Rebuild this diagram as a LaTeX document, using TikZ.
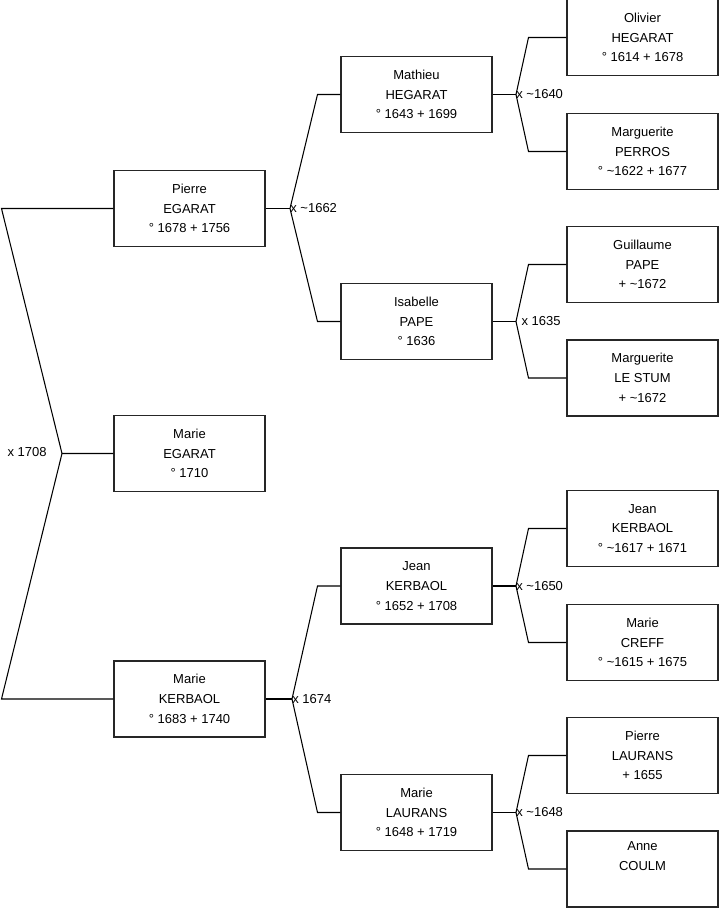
\documentclass[tikz,border=0pt]{standalone}
\usepackage{fontspec}
\setmainfont{Liberation Sans}
\usetikzlibrary{positioning}
\tikzset{
  persona/.style={draw=black!85,line width=0.6pt,minimum width=3.02cm,minimum height=1.52cm,
    inner sep=0pt,align=center,font=\fontsize{7.4}{11.2}\selectfont},
  rama/.style={black,line width=0.6pt},
  boda/.style={inner sep=0pt,anchor=west,font=\fontsize{7.4}{9}\selectfont}
}

\begin{document}
\begin{tikzpicture}[x=0.02cm,y=-0.02cm]
\useasboundingbox (0,0) rectangle (719,908);
% generacion 1
\node[persona] (pierre) at (189.5,208.5) {Pierre\\EGARAT\\° 1678 + 1756};
\node[persona] (marie) at (189.5,453.5) {Marie\\EGARAT\\° 1710};
\node[persona] (mkerbaol) at (189.5,699) {Marie\\KERBAOL\\° 1683 + 1740};
% generacion 2
\node[persona] (mathieu) at (416.5,94.5) {Mathieu\\HEGARAT\\° 1643 + 1699};
\node[persona] (isabelle) at (416.5,321.5) {Isabelle\\PAPE\\° 1636};
\node[persona] (jkerbaol) at (416.5,586) {Jean\\KERBAOL\\° 1652 + 1708};
\node[persona] (mlaurans) at (416.5,812.5) {Marie\\LAURANS\\° 1648 + 1719};
% generacion 3
\node[persona] (olivier) at (642.5,37.5) {Olivier\\HEGARAT\\° 1614 + 1678};
\node[persona] (perros) at (642.5,151.5) {Marguerite\\PERROS\\° \textasciitilde1622 + 1677};
\node[persona] (guillaume) at (642.5,264.5) {Guillaume\\PAPE\\+ \textasciitilde1672};
\node[persona] (lestum) at (642.5,378) {Marguerite\\LE STUM\\+ \textasciitilde1672};
\node[persona] (jean) at (642.5,528.5) {Jean\\KERBAOL\\° \textasciitilde1617 + 1671};
\node[persona] (creff) at (642.5,642.5) {Marie\\CREFF\\° \textasciitilde1615 + 1675};
\node[persona] (plaurans) at (642.5,755.5) {Pierre\\LAURANS\\+ 1655};
\node[persona] (coulm) at (642.5,869) {Anne\\COULM\\\strut};
% uniones
\coordinate (u0) at (62,453.5);
\coordinate (u1) at (290,208.5);
\coordinate (u2) at (292,699);
\coordinate (u3) at (516,94.5);
\coordinate (u4) at (516,321.5);
\coordinate (u5) at (516,586);
\coordinate (u6) at (516,812.5);
\node[boda,anchor=east] (b0) at (47,452) {x 1708};
\node[boda] (b1) at (u1) {x \textasciitilde1662};
\node[boda] (b2) at (u2) {x 1674};
\node[boda] (b3) at (u3) {x \textasciitilde1640};
\node[boda] (b4) at ([xshift=3] u4) {x 1635};
\node[boda] (b5) at (u5) {x \textasciitilde1650};
\node[boda] (b6) at (u6) {x \textasciitilde1648};
% ramas
\draw[rama] (pierre.west) -- ++(-112,0) -- (u0) -- (marie.west);
\draw[rama] (mkerbaol.west) -- ++(-112,0) -- (u0);
\foreach \p/\u/\a/\b in {pierre/u1/mathieu/isabelle,mkerbaol/u2/jkerbaol/mlaurans}{
  \draw[rama] (\p.east) -- (\u);
  \draw[rama] (\a.west) -- ++(-23,0) -- (\u);
  \draw[rama] (\b.west) -- ++(-23,0) -- (\u);
}
\foreach \p/\u/\a/\b in {mathieu/u3/olivier/perros,isabelle/u4/guillaume/lestum,
  jkerbaol/u5/jean/creff,mlaurans/u6/plaurans/coulm}{
  \draw[rama] (\p.east) -- (\u);
  \draw[rama] (\a.west) -- ++(-38,0) -- (\u);
  \draw[rama] (\b.west) -- ++(-38,0) -- (\u);
}
\end{tikzpicture}
\end{document}
